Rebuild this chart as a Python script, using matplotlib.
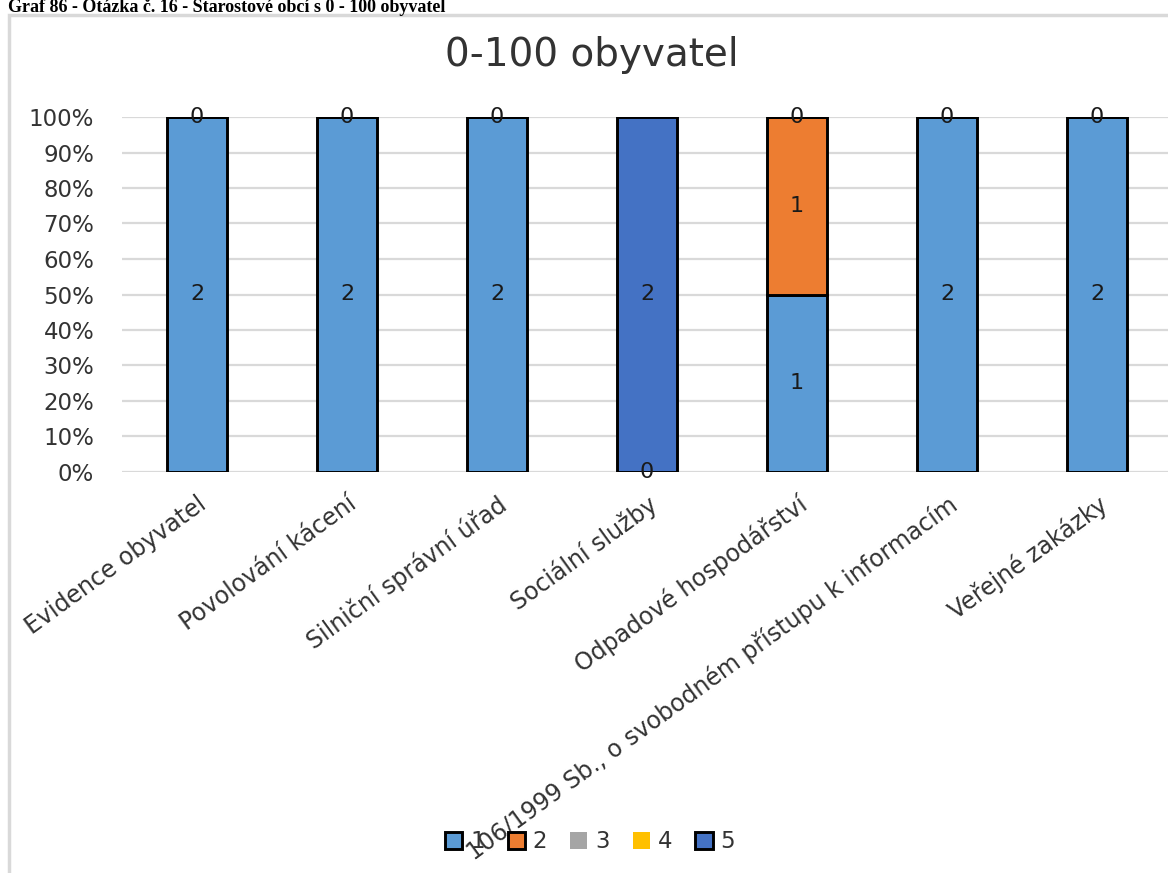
import numpy as np
import matplotlib
matplotlib.use("Agg")
import matplotlib.pyplot as plt
from matplotlib.patches import Rectangle, Patch
from matplotlib.ticker import FuncFormatter

categories = ["Evidence obyvatel", "Povolování kácení", "Silniční správní úřad",
              "Sociální služby", "Odpadové hospodářství",
              "106/1999 Sb., o svobodném přístupu k informacím", "Veřejné zakázky"]
series_names = ["1", "2", "3", "4", "5"]
# counts per category; None = empty cell (no label)
s1 = [2, 2, 2, 0, 1, 2, 2]
s2 = [0, 0, 0, None, 1, 0, 0]
s3 = [None] * 7
s4 = [None] * 7
s5 = [None, None, None, 2, 0, None, None]
series = [s1, s2, s3, s4, s5]

colors = ["#5B9BD5", "#ED7D31", "#A5A5A5", "#FFC000", "#4472C4"]
edges = ["black", "black", "none", "none", "black"]

plt.rcParams["font.family"] = "DejaVu Sans"

fig = plt.figure(figsize=(11.68, 8.73), dpi=100)

# caption above the chart
fig.text(8 / 1168, 1 - 12 / 873, "Graf 86 - Otázka č. 16 - Starostové obcí s 0 - 100 obyvatel",
         family="Liberation Serif", weight="bold", fontsize=13, va="baseline", ha="left")

# chart frame
fig.patches.append(Rectangle((9 / 1168, -0.05), 1.2, 1 - 15 / 873 + 0.05,
                             transform=fig.transFigure, fill=False,
                             edgecolor="#D9D9D9", linewidth=2.5))

ax = fig.add_axes([122 / 1168, 1 - 472 / 873, 1050 / 1168, 355 / 873])

vals = np.array([[np.nan if v is None else v for v in s] for s in series], dtype=float)
totals = np.nansum(vals, axis=0)
pct = np.nan_to_num(vals) / totals

x = np.arange(len(categories))
bottom = np.zeros(len(categories))
for i in range(len(series)):
    ax.bar(x, pct[i], 0.4, bottom=bottom, color=colors[i], edgecolor=edges[i],
           linewidth=2.1, zorder=3)
    for j in range(len(categories)):
        if not np.isnan(vals[i, j]):
            ax.text(x[j], bottom[j] + pct[i, j] / 2, "%d" % vals[i, j], ha="center",
                    va="center", fontsize=16, color="#1a1a1a", zorder=4)
    bottom = bottom + pct[i]

ax.set_xlim(-0.5, len(categories) - 0.5)
ax.set_ylim(0, 1)
ax.set_yticks(np.arange(0, 1.01, 0.1))
ax.yaxis.set_major_formatter(FuncFormatter(lambda v, p: "%d%%" % round(v * 100)))
ax.grid(True, axis="y", color="#D9D9D9", linewidth=1.6, zorder=0)
ax.set_axisbelow(True)
for sp in ax.spines.values():
    sp.set_visible(False)
ax.tick_params(axis="y", length=0, pad=20, labelsize=16.5, labelcolor="#333333")
ax.tick_params(axis="x", length=0, pad=14, labelsize=17, labelcolor="#333333")
ax.set_xticks(x)
ax.set_xticklabels(categories, rotation=36, ha="right", rotation_mode="anchor")

fig.text(592 / 1168, 1 - 55 / 873, "0-100 obyvatel", ha="center", va="center",
         fontsize=28, color="#333333")

handles = [Patch(facecolor=colors[i], edgecolor=edges[i], linewidth=2.1) for i in range(5)]
fig.legend(handles, series_names, loc="center", bbox_to_anchor=(590 / 1168, 1 - 842 / 873),
           ncol=5, frameon=False, fontsize=16.5, handlelength=0.75, handleheight=0.75,
           handletextpad=0.35, columnspacing=1.0, labelcolor="#333333")

fig.savefig("out.png", dpi=100)
